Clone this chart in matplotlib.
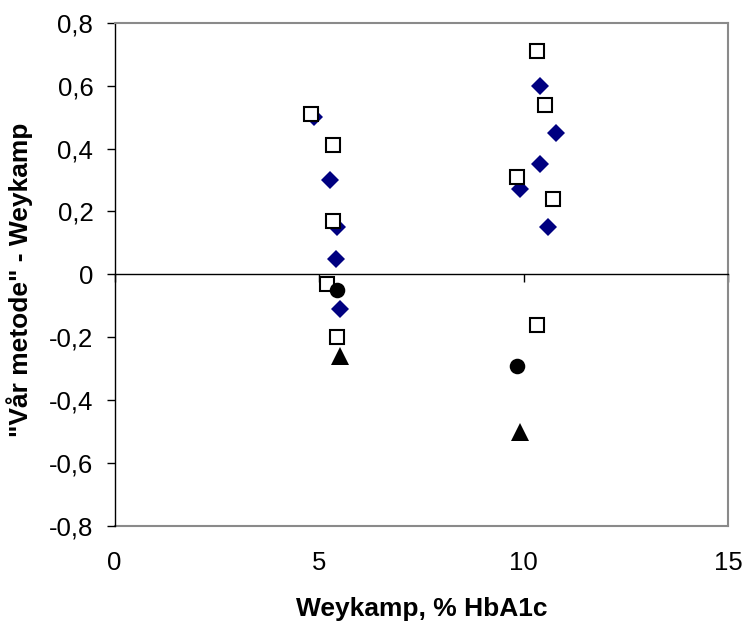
import matplotlib
matplotlib.use("Agg")
import matplotlib.pyplot as plt
from matplotlib.ticker import FuncFormatter

plt.rcParams['font.family'] = ['Liberation Sans', 'DejaVu Sans']

# Weykamp HbA1c (%) and difference "our method" - Weykamp, one list pair per series
diamond_x = [4.88, 5.27, 5.43, 5.41, 5.51, 10.40, 10.80, 10.40, 9.92, 10.60]
diamond_y = [0.50, 0.30, 0.15, 0.05, -0.11, 0.60, 0.45, 0.35, 0.27, 0.15]

square_x = [4.80, 5.35, 5.35, 5.19, 5.44, 10.33, 10.53, 9.84, 10.72, 10.33]
square_y = [0.51, 0.41, 0.17, -0.03, -0.20, 0.71, 0.54, 0.31, 0.24, -0.16]

circle_x = [5.44, 9.84]
circle_y = [-0.05, -0.29]

triangle_x = [5.51, 9.92]
triangle_y = [-0.26, -0.50]

x_ticks = [0, 5, 10, 15]
y_ticks = [-0.8, -0.6, -0.4, -0.2, 0, 0.2, 0.4, 0.6, 0.8]

frame_gray = '#8a8a8a'

fig = plt.figure(figsize=(7.44, 6.26), dpi=100)
ax = fig.add_axes([0.1539, 0.1597, 0.825, 0.8040])

ax.plot(diamond_x, diamond_y, linestyle='none', marker='D', markersize=9.2,
        color='#000080', markeredgewidth=0, zorder=3)
ax.plot(square_x, square_y, linestyle='none', marker='s', markersize=9.6,
        markerfacecolor='white', markeredgecolor='black', markeredgewidth=1.5, zorder=4)
ax.plot(circle_x, circle_y, linestyle='none', marker='o', markersize=11.2,
        color='black', markeredgewidth=0, zorder=5)
ax.plot(triangle_x, triangle_y, linestyle='none', marker='^', markersize=12.5,
        color='black', markeredgewidth=0, zorder=5)

ax.set_xlim(0, 15)
ax.set_ylim(-0.8, 0.8)

# x axis line sits at zero, with short ticks but no labels
ax.spines['bottom'].set_position(('data', 0))
ax.spines['bottom'].set_color('black')
ax.spines['bottom'].set_linewidth(1.0)
ax.set_xticks(x_ticks)
ax.tick_params(axis='x', direction='out', length=5.8, width=1.0, labelbottom=False)

ax.spines['left'].set_color('black')
ax.spines['left'].set_linewidth(1.0)
ax.set_yticks(y_ticks)
ax.yaxis.set_major_formatter(FuncFormatter(lambda v, p: f"{v:g}".replace('.', ',')))
ax.tick_params(axis='y', direction='out', length=5.8, width=1.0, pad=9.5, labelsize=18.5)

for side in ['top', 'right']:
    ax.spines[side].set_color(frame_gray)
    ax.spines[side].set_linewidth(1.5)

# labels of the x axis live at the bottom of the frame
sec = ax.secondary_xaxis('bottom')
sec.set_xticks(x_ticks)
sec.tick_params(length=0, pad=18, labelsize=18.5)
sec.spines['bottom'].set_color(frame_gray)
sec.spines['bottom'].set_linewidth(1.5)
sec.set_xlabel('Weykamp, % HbA1c', fontsize=19, fontweight='bold', labelpad=16)

ax.set_ylabel('"Vår metode" - Weykamp', fontsize=19, fontweight='bold')
ax.yaxis.set_label_coords(-0.132, 0.49)

fig.savefig('out.png', dpi=100)
